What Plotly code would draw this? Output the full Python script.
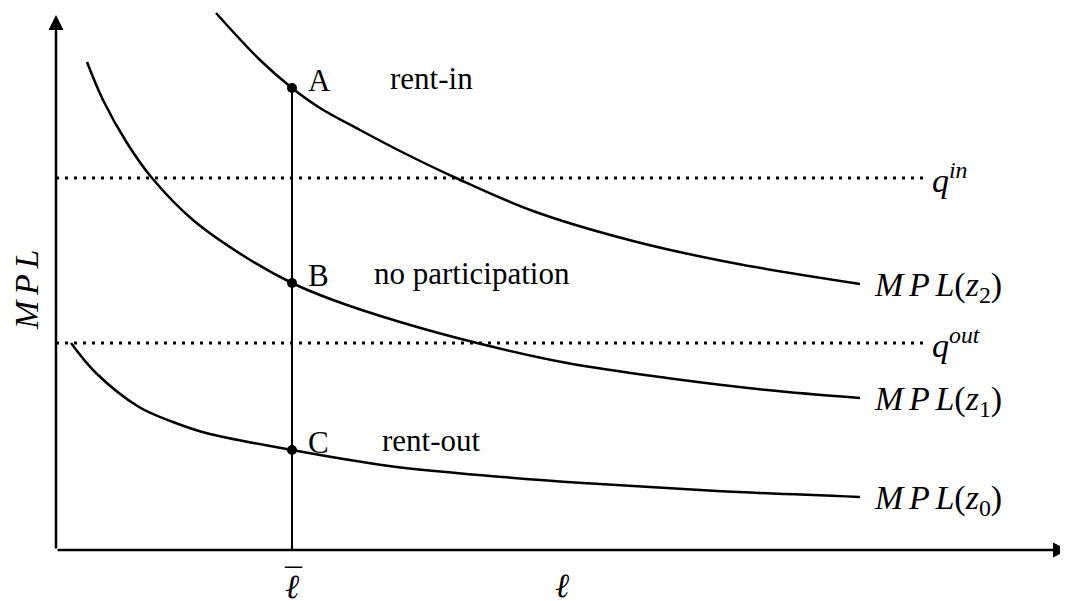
import plotly.graph_objects as go

# curves (labour on x, MPL on y)
z2_x = [1.60, 2.04, 2.36, 2.64, 3.04, 3.44, 4.00, 4.77, 5.77, 6.77, 8.04]
z2_y = [10.74, 9.80, 9.24, 8.84, 8.40, 7.98, 7.44, 6.78, 6.18, 5.74, 5.32]

z1_x = [0.31, 0.47, 0.71, 0.96, 1.37, 1.91, 2.36, 2.77, 3.44, 4.21, 5.11, 6.11, 7.11, 8.04]
z1_y = [9.76, 9.00, 8.14, 7.44, 6.60, 5.84, 5.34, 5.00, 4.56, 4.14, 3.74, 3.44, 3.20, 3.04]

z0_x = [0.15, 0.40, 0.83, 1.17, 1.50, 2.36, 3.33, 4.00, 5.27, 6.61, 8.04]
z0_y = [4.14, 3.54, 2.86, 2.56, 2.34, 2.00, 1.68, 1.54, 1.34, 1.18, 1.06]

sp = "\u2006"
mpl = "<i>M" + sp + "P" + sp + "L</i>"
curve_names = [mpl + "(<i>z</i><sub>2</sub>)", mpl + "(<i>z</i><sub>1</sub>)", mpl + "(<i>z</i><sub>0</sub>)"]

q_in = 7.44
q_out = 4.14
q_end = 8.70
l_bar = 2.36

point_names = ["A", "B", "C"]
point_y = [9.24, 5.34, 2.00]
regime_names = ["rent-in", "no participation", "rent-out"]

x_max = 10.12
y_max = 10.70

serif = "Liberation Serif"
fig = go.Figure()

for xs, ys in [(z2_x, z2_y), (z1_x, z1_y), (z0_x, z0_y)]:
    fig.add_trace(go.Scatter(x=xs, y=ys, mode="lines",
                             line=dict(color="black", width=2.5, shape="spline", smoothing=1.0),
                             showlegend=False, hoverinfo="skip"))

# dotted price lines
for q in [q_in, q_out]:
    fig.add_trace(go.Scatter(x=[0, q_end], y=[q, q], mode="lines",
                             line=dict(color="black", width=3, dash="3px,6px"),
                             showlegend=False, hoverinfo="skip"))

# vertical line at l bar
fig.add_trace(go.Scatter(x=[l_bar, l_bar], y=[0, point_y[0]], mode="lines",
                         line=dict(color="black", width=2), showlegend=False, hoverinfo="skip"))

fig.add_trace(go.Scatter(x=[l_bar] * 3, y=point_y, mode="markers",
                         marker=dict(color="black", size=10), showlegend=False, hoverinfo="skip"))

# axes with arrows
fig.add_annotation(x=x_max, y=0, ax=0, ay=0, xref="x", yref="y", axref="x", ayref="y",
                   text="", showarrow=True, arrowhead=2, arrowsize=1.2, arrowwidth=2.5, arrowcolor="black")
fig.add_annotation(x=0, y=y_max, ax=0, ay=0, xref="x", yref="y", axref="x", ayref="y",
                   text="", showarrow=True, arrowhead=2, arrowsize=1.2, arrowwidth=2.5, arrowcolor="black")

txt = dict(family=serif, size=31, color="black")
math = dict(family=serif, size=34, color="black")

for name, py in zip(point_names, point_y):
    fig.add_annotation(x=l_bar + 0.14, y=py + 0.16, text=name, showarrow=False,
                       xanchor="left", yanchor="middle", font=txt)
for regime, py, dx in zip(regime_names, point_y, [0.96, 0.80, 0.88]):
    fig.add_annotation(x=l_bar + dx, y=py + 0.20, text=regime, showarrow=False,
                       xanchor="left", yanchor="middle", font=txt)

for name, ys in zip(curve_names, [z2_y, z1_y, z0_y]):
    fig.add_annotation(x=8.16, y=ys[-1] - 0.05, text=name, showarrow=False,
                       xanchor="left", yanchor="middle", font=math)

fig.add_annotation(x=8.74, y=q_in, text="<i>q</i><sup><i>in</i></sup>", showarrow=False,
                   xanchor="left", yanchor="middle", font=math)
fig.add_annotation(x=8.74, y=q_out, text="<i>q</i><sup><i>out</i></sup>", showarrow=False,
                   xanchor="left", yanchor="middle", font=math)

# l bar: the letter plus a macron above it
fig.add_annotation(x=l_bar, y=-0.72, text="<i>ℓ</i>", showarrow=False, borderpad=0, font=math)
fig.add_annotation(x=l_bar + 0.01, y=-0.60, text="¯", showarrow=False, borderpad=0, font=math)
fig.add_annotation(x=5.06, y=-0.70, text="<i>ℓ</i>", showarrow=False, borderpad=0, font=math)
fig.add_annotation(x=-0.30, y=5.2, text=mpl, showarrow=False, textangle=-90, borderpad=0, font=math)

fig.update_layout(
    width=1068, height=601,
    margin=dict(l=0, r=0, t=0, b=0),
    paper_bgcolor="white", plot_bgcolor="white",
    xaxis=dict(range=[-0.48, 10.20], visible=False),
    yaxis=dict(range=[-1.18, 10.84], visible=False),
)

fig.write_html("out.html")
